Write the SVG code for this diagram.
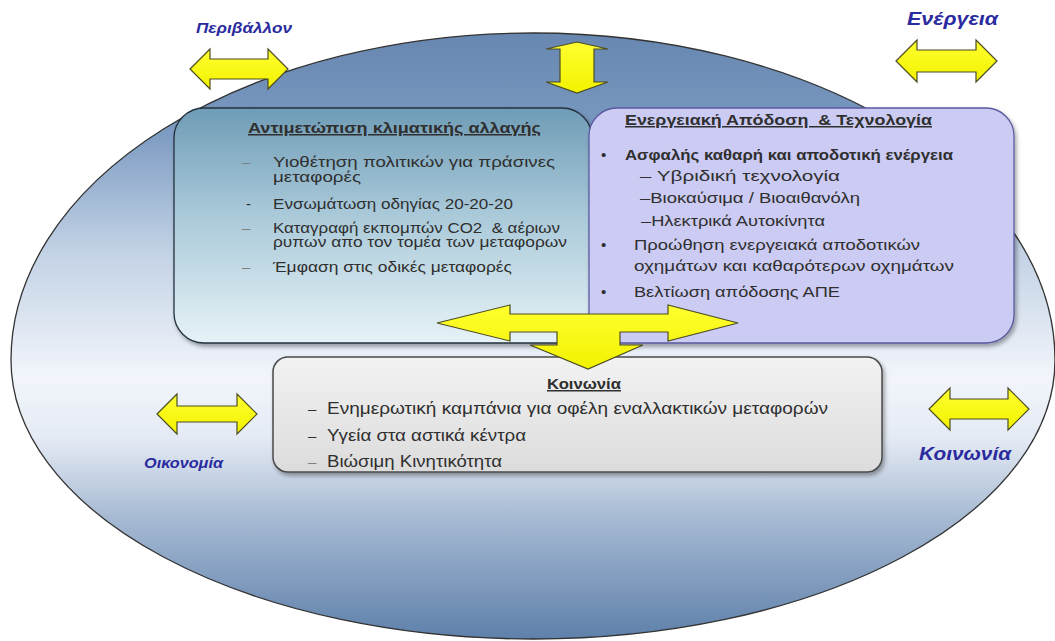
<svg xmlns="http://www.w3.org/2000/svg" width="1055" height="641" viewBox="0 0 1055 641">
<defs>
<linearGradient id="gEll" gradientUnits="userSpaceOnUse" x1="0" y1="33" x2="0" y2="639">
<stop offset="0" stop-color="#6787b0"/>
<stop offset="0.15" stop-color="#7898c0"/>
<stop offset="0.36" stop-color="#c2d2e5"/>
<stop offset="0.57" stop-color="#f2f5fb"/>
<stop offset="0.67" stop-color="#e4eaf4"/>
<stop offset="0.8" stop-color="#a6bad3"/>
<stop offset="1" stop-color="#5e80aa"/>
</linearGradient>
<linearGradient id="gLeft" x1="0" y1="0" x2="0" y2="1">
<stop offset="0" stop-color="#6f9cb6"/>
<stop offset="0.45" stop-color="#a9c9d9"/>
<stop offset="1" stop-color="#e6f2f6"/>
</linearGradient>
<linearGradient id="gBot" x1="0" y1="0" x2="0" y2="1">
<stop offset="0" stop-color="#f2f2f2"/>
<stop offset="1" stop-color="#dcdcdc"/>
</linearGradient>
<linearGradient id="gArr" x1="0" y1="0" x2="0" y2="1">
<stop offset="0" stop-color="#ffff30"/>
<stop offset="1" stop-color="#f2f200"/>
</linearGradient>
<filter id="sh" x="-5%" y="-5%" width="110%" height="115%">
<feDropShadow dx="2" dy="3" stdDeviation="2" flood-color="#000" flood-opacity="0.35"/>
</filter>
<style>
.arr{fill:url(#gArr);stroke:#4d4d24;stroke-width:1.2;stroke-linejoin:miter}
.t{font-family:"Liberation Sans",Arial,sans-serif;fill:#2f2f2f;font-size:15px;white-space:pre}
.s{font-size:14px}
.b{font-weight:bold}
.u{text-decoration:underline}
.d{fill:#808080}
.lab{font-family:"Liberation Sans",Arial,sans-serif;font-weight:bold;font-style:italic;fill:#2b2ba0}
</style>
</defs>

<g id="ellipse">
<path d="M11,360 A522,327 0 0 1 1055,360 A522,279 0 0 1 11,360 Z" fill="url(#gEll)" stroke="#333" stroke-width="1.3"/>
</g>

<g id="node-climate">
<rect x="174" y="108" width="418" height="235" rx="30" ry="30" fill="url(#gLeft)" stroke="#25323e" stroke-width="1.3" filter="url(#sh)"/>
<text class="t b u" x="248" y="133" textLength="293" lengthAdjust="spacingAndGlyphs">Αντιμετώπιση κλιματικής αλλαγής</text>
<text class="t d" x="242" y="167">–</text>
<text class="t s" x="273" y="167" textLength="282" lengthAdjust="spacingAndGlyphs">Υιοθέτηση πολιτικών για πράσινες</text>
<text class="t s" x="273" y="182" textLength="88" lengthAdjust="spacingAndGlyphs">μεταφορές</text>
<text class="t" x="246" y="209">-</text>
<text class="t s" x="273" y="209" textLength="240" lengthAdjust="spacingAndGlyphs">Ενσωμάτωση οδηγίας 20-20-20</text>
<text class="t d" x="242" y="233">–</text>
<text class="t s" x="273" y="233" textLength="287" lengthAdjust="spacingAndGlyphs">Καταγραφή εκπομπών CO2  &amp; αέριων</text>
<text class="t s" x="273" y="247" textLength="294" lengthAdjust="spacingAndGlyphs">ρυπων απο τον τομέα των μεταφορων</text>
<text class="t d" x="242" y="272">–</text>
<text class="t s" x="273" y="272" textLength="239" lengthAdjust="spacingAndGlyphs">Έμφαση στις οδικές μεταφορές</text>
</g>

<g id="node-energy">
<rect x="589" y="108" width="425" height="235" rx="28" ry="28" fill="#cbcbf3" stroke="#5a5aa0" stroke-width="1.3" filter="url(#sh)"/>
<text class="t b u" x="625" y="125" textLength="307" lengthAdjust="spacingAndGlyphs">Ενεργειακή Απόδοση  &amp; Τεχνολογία</text>
<text class="t" x="601" y="160">•</text>
<text class="t b s" x="625" y="160" textLength="328" lengthAdjust="spacingAndGlyphs">Ασφαλής καθαρή και αποδοτική ενέργεια</text>
<text class="t" x="640" y="181" textLength="200" lengthAdjust="spacingAndGlyphs">– Υβριδική τεχνολογία</text>
<text class="t" x="640" y="203" textLength="220" lengthAdjust="spacingAndGlyphs">–Βιοκαύσιμα / Βιοαιθανόλη</text>
<text class="t" x="641" y="226" textLength="184" lengthAdjust="spacingAndGlyphs">–Ηλεκτρικά Αυτοκίνητα</text>
<text class="t" x="601" y="250">•</text>
<text class="t" x="634" y="250" textLength="286" lengthAdjust="spacingAndGlyphs">Προώθηση ενεργειακά αποδοτικών</text>
<text class="t" x="634" y="271" textLength="320" lengthAdjust="spacingAndGlyphs">οχημάτων και καθαρότερων οχημάτων</text>
<text class="t" x="601" y="297">•</text>
<text class="t" x="634" y="297" textLength="206" lengthAdjust="spacingAndGlyphs">Βελτίωση απόδοσης ΑΠΕ</text>
</g>

<g id="node-society">
<rect x="273" y="357" width="609" height="115" rx="15" ry="15" fill="url(#gBot)" stroke="#4a4a4a" stroke-width="1.5" filter="url(#sh)"/>
<text class="t b u" x="547" y="389" textLength="74" lengthAdjust="spacingAndGlyphs">Κοινωνία</text>
<text class="t" x="308" y="414">–</text>
<text class="t" x="327" y="414" textLength="501" lengthAdjust="spacingAndGlyphs" style="font-size:16px">Ενημερωτική καμπάνια για οφέλη εναλλακτικών μεταφορών</text>
<text class="t" x="308" y="441">–</text>
<text class="t" x="327" y="441" textLength="199" lengthAdjust="spacingAndGlyphs" style="font-size:16px">Υγεία στα αστικά κέντρα</text>
<text class="t d" x="308" y="467">–</text>
<text class="t" x="327" y="467" textLength="175" lengthAdjust="spacingAndGlyphs" style="font-size:16px">Βιώσιμη Κινητικότητα</text>
</g>

<g id="label-environment">
<text class="lab" x="196" y="33" font-size="14" textLength="96" lengthAdjust="spacingAndGlyphs" fill="#3a3aa0">Περιβάλλον</text>
</g>
<g id="label-energy">
<text class="lab" x="907" y="25" font-size="19" textLength="91" lengthAdjust="spacingAndGlyphs">Ενέργεια</text>
</g>
<g id="label-economy">
<text class="lab" x="144" y="468" font-size="14" textLength="79" lengthAdjust="spacingAndGlyphs" fill="#3a3aa0">Οικονομία</text>
</g>
<g id="label-society">
<text class="lab" x="919" y="460" font-size="19" textLength="92" lengthAdjust="spacingAndGlyphs">Κοινωνία</text>
</g>

<g id="connectors">
<path class="arr" d="M190,69 L210,49 L210,59 L268,59 L268,49 L288,69 L268,89 L268,79 L210,79 L210,89 Z"/>
<path class="arr" d="M577,42 L608,49 L594,49 L594,82 L608,82 L577,93 L546,82 L560,82 L560,49 L546,49 Z"/>
<path class="arr" d="M896,61 L917,40 L917,50 L976,50 L976,40 L997,61 L976,82 L976,72 L917,72 L917,82 Z"/>
<path class="arr" d="M157,414 L177,394 L177,406 L237,406 L237,394 L257,414 L237,434 L237,422 L177,422 L177,434 Z"/>
<path class="arr" d="M929,409 L950,388 L950,399 L1008,399 L1008,388 L1029,409 L1008,430 L1008,419 L950,419 L950,430 Z"/>
<path class="arr" d="M437,323 L510,305 L510,314 L668,314 L668,305 L738,323 L668,341 L668,332 L620,332 L620,345 L643,345 L588,369 L530,345 L557,345 L557,332 L510,332 L510,341 Z"/>
</g>
</svg>
